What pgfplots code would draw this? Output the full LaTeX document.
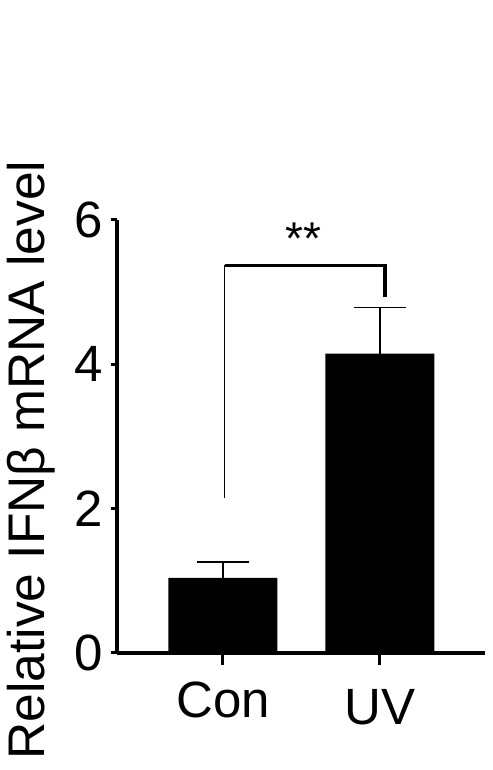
\documentclass[border=0pt]{standalone}
\usepackage{pgfplots}
\pgfplotsset{compat=1.18}
\usepackage{fontspec}
\setmainfont{Liberation Sans}

\begin{document}
\begin{tikzpicture}
\useasboundingbox (0,0) rectangle (492pt,770pt);
\begin{axis}[
    anchor=south west, at={(117pt,117pt)},
    scale only axis, width=368pt, height=433pt,
    xmin=-0.675, xmax=1.669,
    ymin=0, ymax=6,
    axis x line*=bottom, axis y line*=left,
    axis line style={line width=3.3pt, -},
    xtick={0,1}, xticklabels={Con, \raisebox{-7pt}{UV}},
    ytick={0,2,4,6},
    tick align=outside,
    tick style={line width=3pt, black},
    xtick style={/pgfplots/major tick length=12pt},
    ytick style={/pgfplots/major tick length=6pt},
    /pgf/number format/assume math mode=true,
    font=\fontsize{50}{60}\selectfont,
    tick label style={font=\fontsize{51}{60}\selectfont},
    yticklabel style={anchor=east, inner sep=0pt, xshift=-10pt},
    xticklabel style={anchor=base, inner sep=0pt, yshift=-60pt},
    ylabel={Relative IFNβ mRNA level},
    ylabel style={at={(axis description cs:-0.1957,0.4457)}, anchor=base, inner sep=0pt, font=\fontsize{51.5}{60}\selectfont},
    clip=false,
]
\addplot[ybar, bar width=109pt, fill=black, draw=none, bar shift=0pt,
    error bars/.cd, y dir=plus, y explicit,
    error mark=|,
    error bar style={line width=1.3pt, black},
    error mark options={line width=1.3pt, mark size=26pt, black}]
  coordinates {
    (0,1.04) +- (0,0.22)
    (1,4.15) +- (0,0.64)
  };
% significance bracket
\draw[line width=1.5pt] (axis cs:0.01,2.15) -- (axis cs:0.01,5.37);
\draw[line width=3pt] (axis cs:0.01,5.37) -- (axis cs:1.03,5.37);
\draw[line width=4pt] (axis cs:1.03,5.39) -- (axis cs:1.03,4.93);
\node[inner sep=0pt, anchor=center, font=\fontsize{46}{56}\selectfont] at (axis cs:0.51,5.74) {**};
\end{axis}
\end{tikzpicture}
\end{document}
